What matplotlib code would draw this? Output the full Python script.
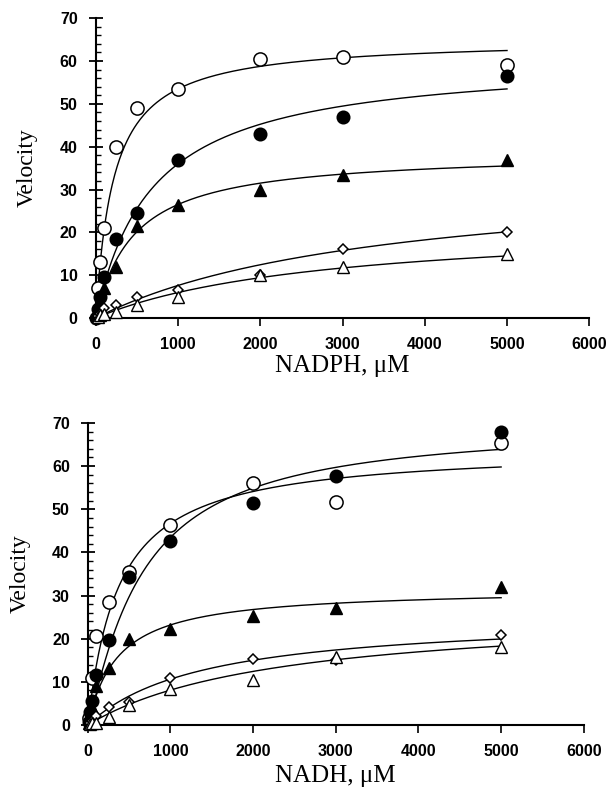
import numpy as np
import matplotlib.pyplot as plt
from matplotlib.ticker import MultipleLocator

# NADPH panel (top) - measured points
nadph_oc_x = [25, 50, 100, 250, 500, 1000, 2000, 3000, 5000]
nadph_oc_v = [7, 13, 21, 40, 49, 53.5, 60.5, 61, 59]
nadph_fc_x = [0, 25, 50, 100, 250, 500, 1000, 2000, 3000, 5000]
nadph_fc_v = [0, 2, 5, 9.5, 18.5, 24.5, 37, 43, 47, 56.5]
nadph_ft_x = [25, 50, 100, 250, 500, 1000, 2000, 3000, 5000]
nadph_ft_v = [1.5, 3.5, 7, 12, 21.5, 26.5, 30, 33.5, 37]
nadph_od_x = [25, 50, 100, 250, 500, 1000, 2000, 3000, 5000]
nadph_od_v = [0.5, 1, 2.3, 3, 5, 6.5, 10, 16, 20]
nadph_ot_x = [25, 50, 100, 250, 500, 1000, 2000, 3000, 5000]
nadph_ot_v = [0.3, 0.6, 1.0, 1.5, 3, 5, 10, 12, 15]

# NADH panel (bottom) - measured points
nadh_oc_x = [10, 50, 100, 250, 500, 1000, 2000, 3000, 5000]
nadh_oc_v = [1.5, 11, 20.7, 28.5, 35.5, 46.4, 56.1, 51.7, 65.4]
nadh_fc_x = [10, 25, 50, 100, 250, 500, 1000, 2000, 3000, 5000]
nadh_fc_v = [0.8, 3.1, 5.6, 11.6, 19.7, 34.2, 42.6, 51.5, 57.7, 67.8]
nadh_ft_x = [10, 25, 50, 100, 250, 500, 1000, 2000, 3000, 5000]
nadh_ft_v = [0.5, 1.5, 4, 9, 13.1, 19.9, 22.2, 25.3, 27.0, 32.0]
nadh_od_x = [25, 50, 100, 250, 500, 1000, 2000, 3000, 5000]
nadh_od_v = [0.5, 1, 2, 4.2, 5.4, 10.8, 15.2, 15.1, 20.9]
nadh_ot_x = [25, 50, 100, 250, 500, 1000, 2000, 3000, 5000]
nadh_ot_v = [0.2, 0.4, 0.5, 1.9, 4.6, 8.3, 10.4, 15.8, 18.1]

# fitted curves: (Vmax, K, hill n)
nadph_fits = [(65.2, 219, 1.0), (60.9, 692, 1.0), (38.8, 464, 1.0),
              (34.2, 3500, 1.0), (22.6, 2800, 1.0)]
nadh_fits = [(64.3, 376, 1.0), (70.0, 650, 1.15), (31.65, 365, 1.0),
             (25.5, 1400, 1.0), (26.7, 2300, 1.0)]

x_ticks = [0, 1000, 2000, 3000, 4000, 5000, 6000]
y_ticks = [0, 10, 20, 30, 40, 50, 60, 70]

styles = [
    dict(marker='o', ms=9.5, mfc='white', mec='black', mew=1.1),
    dict(marker='o', ms=9, mfc='black', mec='black', mew=1.1),
    dict(marker='^', ms=8, mfc='black', mec='black', mew=1.0),
    dict(marker='D', ms=5.5, mfc='white', mec='black', mew=1.1),
    dict(marker='^', ms=8, mfc='white', mec='black', mew=1.0),
]


def hill(x, vmax, k, n):
    return vmax * x**n / (k**n + x**n)


def draw_panel(ax, series, fits, xlabel, ylab_x, xlab_y):
    x_fit = np.linspace(0, 5000, 500)
    for (vmax, k, n) in fits:
        ax.plot(x_fit, hill(x_fit, vmax, k, n), color='black', lw=1.0, zorder=2)
    for (xs, vs), st in zip(series, styles):
        ax.plot(xs, vs, ls='none', clip_on=False, zorder=3, **st)

    ax.set_xlim(0, 6000)
    ax.set_ylim(0, 70)
    ax.set_xticks(x_ticks)
    ax.set_yticks(y_ticks)
    ax.yaxis.set_minor_locator(MultipleLocator(2))
    ax.spines['top'].set_visible(False)
    ax.spines['right'].set_visible(False)
    for s in ['left', 'bottom']:
        ax.spines[s].set_linewidth(1.5)
    ax.tick_params(axis='y', which='major', direction='inout', length=10, width=1.3, pad=8)
    ax.tick_params(axis='y', which='minor', direction='in', length=3.5, width=1.0)
    ax.tick_params(axis='x', which='major', direction='out', length=5.5, width=1.2, pad=8)
    for lab in ax.get_xticklabels() + ax.get_yticklabels():
        lab.set_fontfamily('Liberation Sans')
        lab.set_fontweight('bold')
        lab.set_fontsize(11.5)
    ax.set_ylabel('Velocity', fontfamily='Liberation Serif', fontsize=17)
    ax.set_xlabel(xlabel, fontfamily='Liberation Serif', fontsize=18)
    ax.yaxis.label.set_va('center')
    ax.xaxis.label.set_va('center')
    ax.yaxis.set_label_coords(ylab_x, 0.5)
    ax.xaxis.set_label_coords(0.5, xlab_y)


fig = plt.figure(figsize=(6.1, 7.93), dpi=100)
ax1 = fig.add_axes([0.157, 0.599, 0.809, 0.378])
ax2 = fig.add_axes([0.144, 0.0858, 0.813, 0.3808])

draw_panel(ax1, [(nadph_oc_x, nadph_oc_v), (nadph_fc_x, nadph_fc_v), (nadph_ft_x, nadph_ft_v),
                 (nadph_od_x, nadph_od_v), (nadph_ot_x, nadph_ot_v)],
           nadph_fits, 'NADPH, \u03bcM', -0.138, -0.16)
draw_panel(ax2, [(nadh_oc_x, nadh_oc_v), (nadh_fc_x, nadh_fc_v), (nadh_ft_x, nadh_ft_v),
                 (nadh_od_x, nadh_od_v), (nadh_ot_x, nadh_ot_v)],
           nadh_fits, 'NADH, \u03bcM', -0.137, -0.17)

fig.savefig('out.png', dpi=100)
